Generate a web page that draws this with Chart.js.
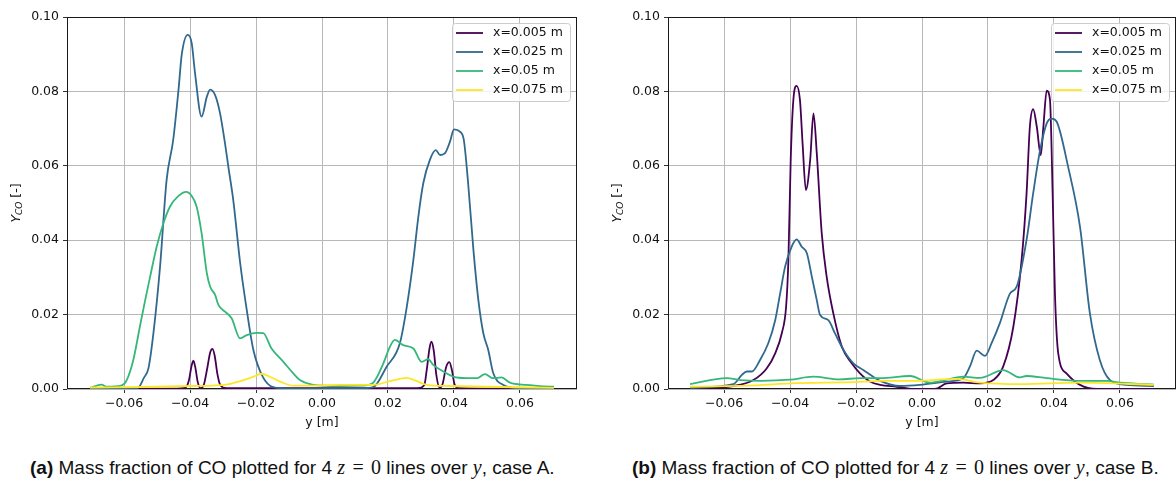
<!DOCTYPE html>
<html>
<head>
<meta charset="utf-8">
<script src="https://cdn.jsdelivr.net/npm/chart.js@4.4.1/dist/chart.umd.min.js"></script>
<style>
  html, body { margin: 0; padding: 0; background: #fff; overflow: hidden; }
  body { width: 1176px; height: 481px; position: relative; }
  canvas { position: absolute; top: 0; }
  #chartA { left: 0; }
  #chartB { left: 598px; }
  .cap { position: absolute; top: 456px; font-family: "Liberation Sans", Arial, sans-serif; font-size: 19px; line-height: 22px; color: #111; white-space: nowrap; }
  .cap b { font-weight: bold; }
  .m { font-family: "Liberation Serif", serif; font-style: italic; font-size: 20px; }
  .mr { font-family: "Liberation Serif", serif; font-size: 20px; }
  .eq { margin: 0 2px; }
</style>
</head>
<body>
<canvas id="chartA" width="590" height="440"></canvas>
<canvas id="chartB" width="578" height="440"></canvas>
<div class="cap" style="left:30px"><b>(a)</b> Mass fraction of CO plotted for 4 <span class="m">z</span> <span class="mr eq">=</span> <span class="mr">0</span> lines over <span class="m">y</span>, case A.</div>
<div class="cap" style="left:632px"><b>(b)</b> Mass fraction of CO plotted for 4 <span class="m">z</span> <span class="mr eq">=</span> <span class="mr">0</span> lines over <span class="m">y</span>, case B.</div>

<script>
// series names and colours (viridis)
const seriesNames = ['x=0.005 m', 'x=0.025 m', 'x=0.05 m', 'x=0.075 m'];
const seriesColors = ['#440154', '#31688e', '#35b779', '#fde725'];

// axis ticks
const xTickVals = [-0.06, -0.04, -0.02, 0.00, 0.02, 0.04, 0.06];
const xTickLabels = ['\u22120.06', '\u22120.04', '\u22120.02', '0.00', '0.02', '0.04', '0.06'];
const yTickVals = [0.00, 0.02, 0.04, 0.06, 0.08, 0.10];
const yTickLabels = ['0.00', '0.02', '0.04', '0.06', '0.08', '0.10'];

// ---- case A ----
const aPos005 = [-0.0703, -0.045, -0.0415, -0.0403, -0.0396, -0.039, -0.0384, -0.0377, -0.0368, -0.0358, -0.0348, -0.0339, -0.0332, -0.0325, -0.0317, -0.0308, -0.029, 0.029, 0.031, 0.0318, 0.0326, 0.0332, 0.0339, 0.0347, 0.0357, 0.0366, 0.0376, 0.0386, 0.0394, 0.0402, 0.0415, 0.0703];
const aVal005 = [0, 0.0001, 0.0003, 0.0025, 0.006, 0.0076, 0.0058, 0.002, 0.0002, 0.0012, 0.0055, 0.0098, 0.0108, 0.0088, 0.004, 0.001, 0.0002, 0.0002, 0.001, 0.0055, 0.011, 0.0127, 0.0102, 0.0035, 0.0003, 0.0015, 0.0058, 0.0072, 0.005, 0.0012, 0.0002, 0];

const aPos025 = [-0.0703, -0.06, -0.0558, -0.054, -0.0526, -0.0511, -0.0491, -0.0471, -0.0451, -0.0435, -0.0425, -0.0407, -0.0395, -0.0385, -0.0365, -0.0349, -0.0339, -0.0324, -0.0309, -0.0294, -0.0284, -0.0269, -0.0248, -0.0228, -0.0208, -0.0179, -0.0148, -0.01, 0.01, 0.0155, 0.0196, 0.0236, 0.0257, 0.0277, 0.0292, 0.0307, 0.0327, 0.0345, 0.0358, 0.0373, 0.0388, 0.040, 0.0418, 0.043, 0.0443, 0.0459, 0.0474, 0.0489, 0.0504, 0.0519, 0.055, 0.06, 0.0703];
const aVal025 = [0, 0, 0.0003, 0.003, 0.0056, 0.015, 0.0328, 0.0562, 0.067, 0.0804, 0.090, 0.0952, 0.093, 0.085, 0.0732, 0.0786, 0.0805, 0.079, 0.0741, 0.066, 0.0598, 0.0508, 0.0338, 0.0212, 0.0105, 0.0032, 0.0005, 0.0001, 0.0001, 0.0005, 0.006, 0.0123, 0.0221, 0.0347, 0.0463, 0.0553, 0.0616, 0.0642, 0.0629, 0.0634, 0.0665, 0.0698, 0.0692, 0.0669, 0.0553, 0.0374, 0.0239, 0.015, 0.0105, 0.0043, 0.0011, 0.0002, 0];

const aPos05 = [-0.0703, -0.0668, -0.0653, -0.0607, -0.0592, -0.0572, -0.0552, -0.0536, -0.0521, -0.0501, -0.0481, -0.0461, -0.0435, -0.0412, -0.0395, -0.038, -0.0365, -0.0349, -0.0339, -0.0324, -0.0314, -0.0294, -0.0274, -0.0248, -0.0228, -0.0198, -0.0178, -0.0153, -0.0117, -0.0087, -0.0067, -0.003, 0.0055, 0.012, 0.0155, 0.0186, 0.0206, 0.0221, 0.0246, 0.0277, 0.0302, 0.0322, 0.0337, 0.0368, 0.0398, 0.0438, 0.0469, 0.0494, 0.0519, 0.0544, 0.057, 0.062, 0.066, 0.0703];
const aVal05 = [0.0003, 0.0012, 0.0006, 0.001, 0.0024, 0.0078, 0.0168, 0.0239, 0.0302, 0.0383, 0.0445, 0.049, 0.0519, 0.053, 0.0519, 0.049, 0.0419, 0.0311, 0.0275, 0.0253, 0.0226, 0.0208, 0.019, 0.0136, 0.0145, 0.0151, 0.015, 0.0109, 0.0073, 0.0042, 0.0024, 0.0012, 0.0008, 0.0009, 0.0017, 0.0069, 0.0114, 0.0132, 0.0118, 0.0109, 0.0073, 0.008, 0.0065, 0.0047, 0.0033, 0.0029, 0.0029, 0.004, 0.0029, 0.0031, 0.0017, 0.0011, 0.0008, 0.0006];

const aPos075 = [-0.0703, -0.05, -0.04, -0.029, -0.0248, -0.0208, -0.0183, -0.0158, -0.0127, -0.0087, -0.004, 0.0055, 0.0155, 0.0206, 0.0257, 0.0287, 0.0317, 0.0388, 0.05, 0.0703];
const aVal075 = [0.0004, 0.0006, 0.0008, 0.0012, 0.0021, 0.0033, 0.0041, 0.0033, 0.002, 0.0009, 0.0009, 0.0011, 0.0011, 0.0021, 0.003, 0.0021, 0.0011, 0.0008, 0.0006, 0.0003];

// ---- case B ----
const bPos005 = [-0.0703, -0.0572, -0.0511, -0.0471, -0.0445, -0.0425, -0.0412, -0.0405, -0.0398, -0.039, -0.038, -0.037, -0.0362, -0.0352, -0.0339, -0.0329, -0.0319, -0.0304, -0.0289, -0.0269, -0.0243, -0.0213, -0.0188, -0.0158, -0.0127, -0.0077, -0.0026, 0.0039, 0.0075, 0.0125, 0.0176, 0.0216, 0.0246, 0.0277, 0.0302, 0.0317, 0.0327, 0.0337, 0.0348, 0.036, 0.0368, 0.0378, 0.0388, 0.0396, 0.0403, 0.0413, 0.0438, 0.0479, 0.053, 0.0703];
const bVal005 = [0.0001, 0.0008, 0.0024, 0.0055, 0.0096, 0.015, 0.0221, 0.0347, 0.0616, 0.0777, 0.0815, 0.0777, 0.066, 0.0535, 0.0616, 0.0741, 0.0634, 0.0419, 0.0302, 0.0204, 0.0114, 0.0069, 0.0042, 0.002, 0.0011, 0.0006, 0, 0, 0.0015, 0.0017, 0.0015, 0.0024, 0.006, 0.0168, 0.0347, 0.0526, 0.0705, 0.0752, 0.0705, 0.0629, 0.0705, 0.0802, 0.0777, 0.0526, 0.0257, 0.0096, 0.0042, 0.0011, 0, 0];

const bPos025 = [-0.0703, -0.0572, -0.0546, -0.0531, -0.0516, -0.0491, -0.0466, -0.0445, -0.043, -0.0415, -0.0395, -0.038, -0.0365, -0.0349, -0.0334, -0.0319, -0.0309, -0.0284, -0.0264, -0.0238, -0.0208, -0.0178, -0.0148, -0.0127, -0.0067, -0.0006, 0.0075, 0.0125, 0.0145, 0.0166, 0.0191, 0.0211, 0.0236, 0.0267, 0.0287, 0.0317, 0.0337, 0.0358, 0.0378, 0.0393, 0.0408, 0.0443, 0.0479, 0.0509, 0.0539, 0.057, 0.062, 0.0703];
const bVal025 = [0.0003, 0.0013, 0.0038, 0.0047, 0.0047, 0.0078, 0.0123, 0.0185, 0.0257, 0.0329, 0.0383, 0.0402, 0.0383, 0.0365, 0.0302, 0.0239, 0.0199, 0.0185, 0.015, 0.0105, 0.0069, 0.0051, 0.0033, 0.0022, 0.0008, 0.0011, 0.002, 0.0029, 0.006, 0.0103, 0.0089, 0.0123, 0.0177, 0.0257, 0.0275, 0.0401, 0.0526, 0.0642, 0.0714, 0.0727, 0.0719, 0.0597, 0.0436, 0.0203, 0.0078, 0.0024, 0.0011, 0.0008];

const bPos05 = [-0.0703, -0.0592, -0.055, -0.049, -0.04, -0.033, -0.025, -0.0188, -0.0127, -0.0036, 0.0024, 0.0075, 0.0125, 0.0176, 0.0246, 0.0297, 0.0317, 0.0378, 0.0479, 0.056, 0.0601, 0.0681, 0.0703];
const bVal05 = [0.0013, 0.0029, 0.0024, 0.0022, 0.0025, 0.0033, 0.0026, 0.0029, 0.0029, 0.0035, 0.0017, 0.0025, 0.0033, 0.003, 0.0051, 0.0031, 0.0035, 0.0029, 0.0022, 0.0022, 0.0017, 0.0013, 0.0012];

const bPos075 = [-0.0703, -0.05, -0.04, -0.0188, -0.0127, -0.0026, 0.0105, 0.0176, 0.03, 0.0479, 0.0703];
const bVal075 = [0.0006, 0.001, 0.0015, 0.0019, 0.0022, 0.0022, 0.0027, 0.0017, 0.0013, 0.0017, 0.0011];

const tickFont = { family: 'DejaVu Sans', size: 12.5 };

// pair up positions and values for the library
function zipPoints(pos, val) {
    let pts = [];
    for (let i = 0; i < pos.length; i++) {
        pts.push({ x: pos[i], y: val[i] });
    }
    return pts;
}

// full black frame round the plot area, like matplotlib spines
const framePlugin = {
    id: 'frame',
    beforeDatasetsDraw(chart) {
        const a = chart.chartArea;
        const ctx = chart.ctx;
        ctx.save();
        ctx.strokeStyle = '#1a1a1a';
        ctx.lineWidth = 1;
        ctx.strokeRect(Math.round(a.left) + 0.5, Math.round(a.top) + 0.5,
            Math.round(a.right - a.left) - 1, Math.round(a.bottom - a.top) - 1);
        ctx.restore();
    }
};

// y axis label with subscript: Y_CO [-]
const yLabelPlugin = {
    id: 'yLabel',
    afterDraw(chart) {
        const a = chart.chartArea;
        const ctx = chart.ctx;
        const cx = a.left - 50;
        const cy = (a.top + a.bottom) / 2;
        ctx.save();
        ctx.translate(cx, cy);
        ctx.rotate(-Math.PI / 2);
        ctx.fillStyle = '#111';
        ctx.textBaseline = 'middle';
        const big = 'italic 12.5px "DejaVu Sans"';
        const small = 'italic 9px "DejaVu Sans"';
        const norm = '12.5px "DejaVu Sans"';
        ctx.font = big; const wY = ctx.measureText('Y').width;
        ctx.font = small; const wS = ctx.measureText('CO').width;
        ctx.font = norm; const wR = ctx.measureText(' [-]').width;
        let x = -(wY + wS + wR) / 2;
        ctx.font = big; ctx.fillText('Y', x, 0); x += wY;
        ctx.font = small; ctx.fillText('CO', x, 3); x += wS;
        ctx.font = norm; ctx.fillText(' [-]', x, 0);
        ctx.restore();
    }
};

// legend box in the upper right corner of the plot
const boxLegendPlugin = {
    id: 'boxLegend',
    afterDraw(chart) {
        const a = chart.chartArea;
        const ctx = chart.ctx;
        const w = 118, h = 78;
        const x0 = a.right - 7 - w;
        const y0 = a.top + 6;
        ctx.save();
        ctx.beginPath();
        ctx.roundRect(x0 + 0.5, y0 + 0.5, w, h, 3);
        ctx.fillStyle = 'rgba(255,255,255,0.8)';
        ctx.fill();
        ctx.strokeStyle = '#cccccc';
        ctx.lineWidth = 1;
        ctx.stroke();
        ctx.font = '12.5px "DejaVu Sans"';
        ctx.textBaseline = 'middle';
        chart.data.datasets.forEach((ds, i) => {
            const yy = y0 + 10 + i * 19;
            ctx.strokeStyle = ds.borderColor;
            ctx.lineWidth = 1.8;
            ctx.beginPath();
            ctx.moveTo(x0 + 4, yy);
            ctx.lineTo(x0 + 31, yy);
            ctx.stroke();
            ctx.fillStyle = '#111';
            ctx.fillText(ds.label, x0 + 41, yy);
        });
        ctx.restore();
    }
};

function makeChart(canvasId, positions, values, xLimit, yAxisWidth, rightPad) {
    let datasets = [];
    for (let i = 0; i < seriesNames.length; i++) {
        datasets.push({
            label: seriesNames[i],
            data: zipPoints(positions[i], values[i]),
            borderColor: seriesColors[i],
            backgroundColor: seriesColors[i],
            borderWidth: 1.8,
            pointRadius: 0,
            fill: false,
            cubicInterpolationMode: 'monotone',
            order: seriesNames.length - i
        });
    }

    return new Chart(document.getElementById(canvasId), {
        type: 'line',
        data: { datasets: datasets },
        options: {
            responsive: false,
            animation: false,
            devicePixelRatio: 1,
            layout: { padding: { left: 0, right: rightPad, top: 17, bottom: 0 } },
            plugins: {
                legend: { display: false },
                tooltip: { enabled: false }
            },
            scales: {
                x: {
                    type: 'linear',
                    min: -xLimit,
                    max: xLimit,
                    afterBuildTicks: s => { s.ticks = xTickVals.map(v => ({ value: v })); },
                    afterFit: s => { s.height = 51; },
                    ticks: {
                        callback: (v, i) => xTickLabels[i],
                        font: tickFont,
                        color: '#111',
                        padding: 3,
                        maxRotation: 0,
                        autoSkip: false
                    },
                    grid: { color: '#b8b8b8', lineWidth: 1, tickLength: 4, tickColor: '#333' },
                    border: { display: false },
                    title: {
                        display: true,
                        text: 'y [m]',
                        font: tickFont,
                        color: '#111',
                        padding: { top: 0, bottom: 10 }
                    }
                },
                y: {
                    type: 'linear',
                    min: 0,
                    max: 0.1,
                    afterBuildTicks: s => { s.ticks = yTickVals.map(v => ({ value: v })); },
                    afterFit: s => { s.width = yAxisWidth; },
                    ticks: {
                        callback: (v, i) => yTickLabels[i],
                        font: tickFont,
                        color: '#111',
                        padding: 4,
                        autoSkip: false
                    },
                    grid: { color: '#b8b8b8', lineWidth: 1, tickLength: 4, tickColor: '#333' },
                    border: { display: false }
                }
            }
        },
        plugins: [framePlugin, yLabelPlugin, boxLegendPlugin]
    });
}

makeChart('chartA', [aPos005, aPos025, aPos05, aPos075], [aVal005, aVal025, aVal05, aVal075], 0.0773, 67, 13);
makeChart('chartB', [bPos005, bPos025, bPos05, bPos075], [bVal005, bVal025, bVal05, bVal075], 0.077, 70, 0);
</script>
</body>
</html>
